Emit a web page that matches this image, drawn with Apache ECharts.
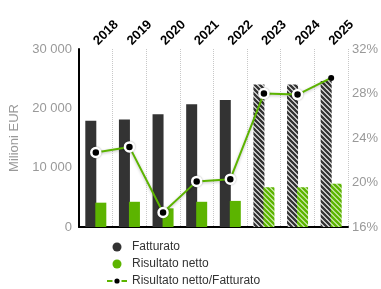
<!DOCTYPE html>
<html>
<head>
<meta charset="utf-8">
<script src="https://cdn.jsdelivr.net/npm/echarts@6/dist/echarts.min.js"></script>
<style>
  html, body { margin: 0; padding: 0; background: #fff; }
  #chart { width: 381px; height: 289px; }
</style>
</head>
<body>
<div id="chart"></div>
<script>
const years = ['2018', '2019', '2020', '2021', '2022', '2023', '2024', '2025'];
const fatturato = [17900, 18100, 19000, 20700, 21400, 24000, 24000, 24600];
const risultato = [4100, 4250, 3150, 4250, 4400, 6700, 6700, 7300];
const margine = [22.7, 23.2, 17.3, 20.1, 20.3, 28.0, 27.9, 29.4];
const forecastFrom = 5; // 2023 in poi sono stime (tratteggiate)

const DARK = '#333333';
const GREEN = '#5cb400';

// pattern a righe diagonali per gli anni stimati
function hatch(fg, bg) {
    const c = document.createElement('canvas');
    const s = 5;
    c.width = s; c.height = s;
    const ctx = c.getContext('2d');
    ctx.fillStyle = bg;
    ctx.fillRect(0, 0, s, s);
    ctx.strokeStyle = fg;
    ctx.lineWidth = 2.4;
    ctx.beginPath();
    ctx.moveTo(-1, -1); ctx.lineTo(s + 1, s + 1);
    ctx.moveTo(-1, s - 1); ctx.lineTo(1, s + 1);
    ctx.moveTo(s - 1, -1); ctx.lineTo(s + 1, 1);
    ctx.stroke();
    return { image: c, repeat: 'repeat' };
}

const hatchDark = hatch(DARK, '#f4f4f4');
const hatchGreen = hatch(GREEN, '#d6f0bc');

const chart = echarts.init(document.getElementById('chart'));

const fmt = v => String(v).replace(/\B(?=(\d{3})+(?!\d))/g, ' ');

chart.setOption({
    animation: false,
    grid: { left: 79, right: 33, top: 49, bottom: 62 },
    legend: {
        orient: 'vertical',
        left: 106,
        top: 241,
        padding: 0,
        height: 48,
        itemWidth: 20,
        itemHeight: 9,
        itemGap: 5,
        textStyle: { color: '#333', fontSize: 12, fontFamily: 'Liberation Sans' },
        data: [
            { name: 'Fatturato', icon: 'circle' },
            { name: 'Risultato netto', icon: 'circle' },
            { name: 'Risultato netto/Fatturato', lineStyle: { type: 'dashed', width: 2 } }
        ]
    },
    xAxis: [
        {
            type: 'category',
            position: 'top',
            data: years,
            axisLine: { show: false },
            axisTick: { show: false },
            axisLabel: {
                interval: 0,
                rotate: 45,
                margin: 6,
                color: '#000',
                fontSize: 13,
                fontWeight: 'bold',
                fontFamily: 'Liberation Sans'
            },
            splitLine: {
                show: true,
                interval: 0,
                lineStyle: { color: '#c8c8c8', type: 'dotted', width: 1 }
            }
        },
        {
            type: 'category',
            position: 'bottom',
            data: years,
            axisLine: { show: true, lineStyle: { color: '#000', width: 2 } },
            axisTick: { show: false },
            axisLabel: { show: false }
        }
    ],
    yAxis: [
        {
            type: 'value',
            min: 0,
            max: 30000,
            interval: 10000,
            name: 'Milioni EUR',
            nameLocation: 'middle',
            nameGap: 56,
            nameTextStyle: { color: '#999', fontSize: 13, fontFamily: 'Liberation Sans' },
            axisLine: { show: true, lineStyle: { color: '#000', width: 2 } },
            axisTick: { show: false },
            splitLine: { show: false },
            axisLabel: {
                color: '#999',
                fontSize: 13,
                margin: 7,
                fontFamily: 'Liberation Sans',
                formatter: fmt
            }
        },
        {
            type: 'value',
            min: 16,
            max: 32,
            interval: 4,
            position: 'right',
            axisLine: { show: false },
            axisTick: { show: false },
            splitLine: { show: false },
            axisLabel: {
                color: '#999',
                fontSize: 13,
                margin: 4,
                fontFamily: 'Liberation Sans',
                formatter: v => v + '%'
            }
        }
    ],
    series: [
        {
            name: 'Fatturato',
            type: 'bar',
            barWidth: 11,
            barGap: '-9%',
            itemStyle: { color: DARK },
            data: fatturato.map((v, i) => i >= forecastFrom
                ? { value: v, itemStyle: { color: hatchDark } } : v)
        },
        {
            name: 'Risultato netto',
            type: 'bar',
            barWidth: 11,
            barGap: '-9%',
            itemStyle: { color: GREEN },
            data: risultato.map((v, i) => i >= forecastFrom
                ? { value: v, itemStyle: { color: hatchGreen } } : v)
        },
        {
            name: 'Risultato netto/Fatturato',
            type: 'line',
            yAxisIndex: 1,
            symbol: 'circle',
            symbolSize: 9,
            lineStyle: {
                color: GREEN,
                width: 2,
                shadowColor: 'rgba(0,0,0,0.25)',
                shadowBlur: 3,
                shadowOffsetY: 1
            },
            itemStyle: {
                color: '#000',
                borderColor: '#fff',
                borderWidth: 2.5,
                shadowColor: 'rgba(0,0,0,0.3)',
                shadowBlur: 2
            },
            z: 5,
            data: margine.map((v, i) => i === margine.length - 1
                ? { value: v, symbolSize: 6, itemStyle: { borderWidth: 0, shadowBlur: 0 } } : v)
        }
    ]
});
</script>
</body>
</html>
